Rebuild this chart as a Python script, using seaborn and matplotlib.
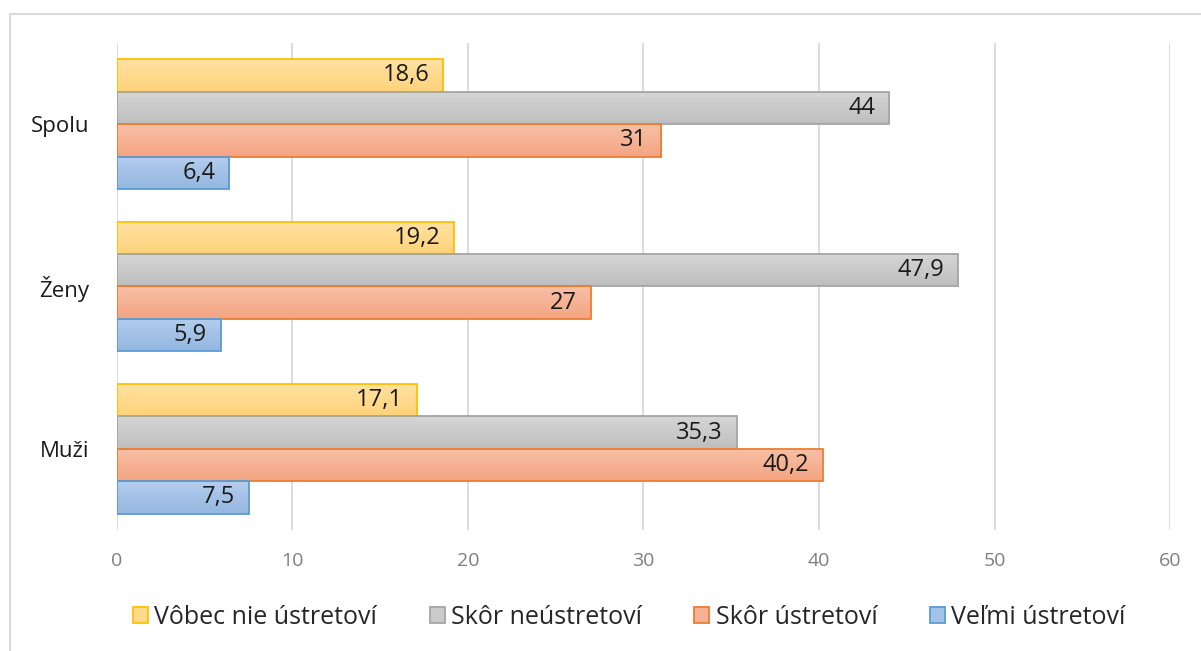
import numpy as np
import pandas as pd
import matplotlib.pyplot as plt
import seaborn as sns
from matplotlib.colors import LinearSegmentedColormap
from matplotlib.patches import Patch, Rectangle

# Data
groups = ['Spolu', 'Ženy', 'Muži']
answers = ['Vôbec nie ústretoví', 'Skôr neústretoví', 'Skôr ústretoví', 'Veľmi ústretoví']
vobec_nie = [18.6, 19.2, 17.1]
skor_neustretovi = [44, 47.9, 35.3]
skor_ustretovi = [31, 27, 40.2]
velmi = [6.4, 5.9, 7.5]
x_ticks = [0, 10, 20, 30, 40, 50, 60]

fills = ['#FFD98C', '#CACACA', '#F6B194', '#A4C2E7']
tops = ['#FFE2A3', '#D6D6D6', '#F8C0A6', '#B3CDEE']
bottoms = ['#FFD27A', '#BEBEBE', '#F4A482', '#95B7E0']
edges = ['#FFC000', '#A5A5A5', '#ED7D31', '#5B9BD5']

rows = []
for series, vals in zip(answers, [vobec_nie, skor_neustretovi, skor_ustretovi, velmi]):
    for g, v in zip(groups, vals):
        rows.append({'Skupina': g, 'Odpoveď': series, 'Hodnota': v})
df = pd.DataFrame(rows)

sns.set_theme(style='white')
plt.rcParams['font.family'] = ['Open Sans', 'DejaVu Sans']

fig = plt.figure(figsize=(12.01, 6.51), dpi=100)
ax = fig.add_axes([0.0974, 0.186, 0.8768, 0.748])

sns.barplot(data=df, y='Skupina', x='Hodnota', hue='Odpoveď', order=groups,
            hue_order=answers, palette=fills, saturation=1, orient='h', width=0.8,
            errorbar=None, legend=False, ax=ax, zorder=3)

ax.set_xlim(0, 60)
ylim = ax.get_ylim()

# subtle vertical gradient, edges and value labels
grad = np.linspace(0, 1, 64).reshape(-1, 1)
for cont, ec, top, bot in zip(ax.containers, edges, tops, bottoms):
    cmap = LinearSegmentedColormap.from_list('g', [top, bot])
    for bar, v in zip(cont, cont.datavalues):
        bar.set_edgecolor(ec)
        bar.set_linewidth(1.3)
        x0, y0 = bar.get_x(), bar.get_y()
        w, h = bar.get_width(), bar.get_height()
        im = ax.imshow(grad, cmap=cmap, aspect='auto', zorder=3.5,
                       extent=(x0, x0 + w, y0, y0 + h), origin='lower')
        im.set_clip_path(bar)
        bar.set_facecolor('none')
        bar.set_zorder(4)
        ax.annotate(f'{v:g}'.replace('.', ','), xy=(x0 + w, y0 + h / 2),
                    xytext=(-10, 0), textcoords='offset points', ha='right',
                    va='center', fontsize=17, color='#1a1a1a', zorder=5)

ax.set_xlim(0, 60)
ax.set_ylim(ylim)
ax.set_xticks(x_ticks)
ax.xaxis.grid(True, color='#D9D9D9', linewidth=1.3, zorder=0)
ax.set_axisbelow(True)
for s in ax.spines.values():
    s.set_visible(False)
ax.set_xlabel('')
ax.set_ylabel('')
ax.tick_params(axis='x', colors='#7F7F7F', labelsize=14, length=0, pad=16)
ax.tick_params(axis='y', colors='#1a1a1a', labelsize=16, length=0, pad=20)
for lab in ax.get_xticklabels():
    lab.set_color('#7F7F7F')

handles = [Patch(facecolor=f, edgecolor=e, linewidth=1.3, label=a)
           for f, e, a in zip(fills, edges, answers)]
fig.legend(handles=handles, loc='center', bbox_to_anchor=(0.524, 0.052), ncol=4,
           frameon=False, fontsize=18, handlelength=0.6, handleheight=0.6,
           handletextpad=0.25, columnspacing=2.1)

# outer chart frame (top and left visible)
fig.patches.append(Rectangle((0.0083, -0.2), 1.2, 1.1785, transform=fig.transFigure,
                             fill=False, edgecolor='#D9D9D9', linewidth=1.5))

fig.savefig('out.png', dpi=100)
